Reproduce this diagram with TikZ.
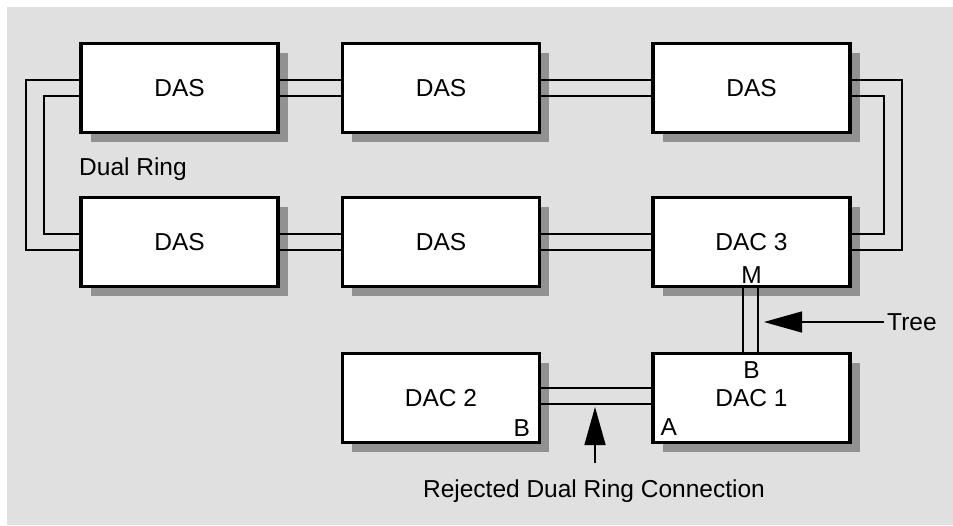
\documentclass[tikz,border=0pt]{standalone}
\usepackage{fontspec}
\setmainfont{Liberation Sans}
\usetikzlibrary{shadows,arrows.meta}
\definecolor{bggray}{HTML}{E0E0E0}
\definecolor{shgray}{HTML}{919191}
\begin{document}
\begin{tikzpicture}[x=1pt,y=-1pt,
  font=\fontsize{24.5}{29}\selectfont,
  box/.style={draw, line width=3.2pt, fill=white, minimum width=197pt,
    minimum height=89pt, inner sep=0,
    drop shadow={shadow xshift=9.5pt, shadow yshift=-9.5pt, fill=shgray, opacity=1}},
  link/.style={line width=2pt},
  lab/.style={inner sep=0},
  pointer/.style={line width=1.5pt, -{Triangle[length=38pt,width=21pt]}}]
\useasboundingbox (0,0) rectangle (953,525);
\fill[bggray] (7,7) rectangle (953,525);

% boxes
\node[box] (d1) at (179.5,88) {DAS};
\node[box] (d2) at (441,88) {DAS};
\node[box] (d3) at (751.5,88) {DAS};
\node[box] (d4) at (179.5,242) {DAS};
\node[box] (d5) at (441,242) {DAS};
\node[box] (dac3) at (751.5,242) {DAC 3};
\node[box] (dac2) at (441,398) {DAC 2};
\node[box] (dac1) at (751.5,398) {DAC 1};

% port labels
\node[lab] (m) at ([yshift=13.5pt]dac3.south) {M};
\node[lab] (b1) at ([yshift=-18.5pt]dac1.north) {B};
\node[lab, anchor=west] (a1) at ([xshift=9pt,yshift=17pt]dac1.south west) {A};
\node[lab, anchor=east] (b2) at ([xshift=-11pt,yshift=16pt]dac2.south east) {B};

% dual ring links
\draw[link] ([yshift=8pt]d1.east) -- ([yshift=8pt]d2.west);
\draw[link] ([yshift=-8pt]d1.east) -- ([yshift=-8pt]d2.west);
\draw[link] ([yshift=8pt]d2.east) -- ([yshift=8pt]d3.west);
\draw[link] ([yshift=-8pt]d2.east) -- ([yshift=-8pt]d3.west);
\draw[link] ([yshift=8pt]d4.east) -- ([yshift=8pt]d5.west);
\draw[link] ([yshift=-8pt]d4.east) -- ([yshift=-8pt]d5.west);
\draw[link] ([yshift=8pt]d5.east) -- ([yshift=8pt]dac3.west);
\draw[link] ([yshift=-8pt]d5.east) -- ([yshift=-8pt]dac3.west);
% left ring ends
\draw[link] ([yshift=8pt]d1.west) -- ++(-53,0) |- ([yshift=-8pt]d4.west);
\draw[link] ([yshift=-8pt]d1.west) -- ++(-35,0) |- ([yshift=8pt]d4.west);
% right ring ends
\draw[link] ([yshift=8pt]d3.east) -- ++(50,0) |- ([yshift=-8pt]dac3.east);
\draw[link] ([yshift=-8pt]d3.east) -- ++(32,0) |- ([yshift=8pt]dac3.east);
% tree link
\draw[link] ([xshift=-9pt]dac3.south) -- ([xshift=-9pt]dac1.north);
\draw[link] ([xshift=6pt]dac3.south) -- ([xshift=6pt]dac1.north);
% rejected link
\draw[link] ([yshift=10pt]dac2.east) -- ([yshift=10pt]dac1.west);
\draw[link] ([yshift=-6pt]dac2.east) -- ([yshift=-6pt]dac1.west);

% annotations
\node[lab, anchor=base west] (dualring) at (79,175) {Dual Ring};
\node[anchor=west, inner sep=3pt] (tree) at (884,322) {Tree};
\coordinate (treetip) at (764,322);
\draw[pointer] (tree.west) -- (treetip);
\node[lab, anchor=base] (rej) at (594,497) {Rejected Dual Ring Connection};
\coordinate (rejtail) at (595,463);
\coordinate (rejtip) at (595,407);
\draw[pointer] (rejtail) -- (rejtip);
\end{tikzpicture}
\end{document}
